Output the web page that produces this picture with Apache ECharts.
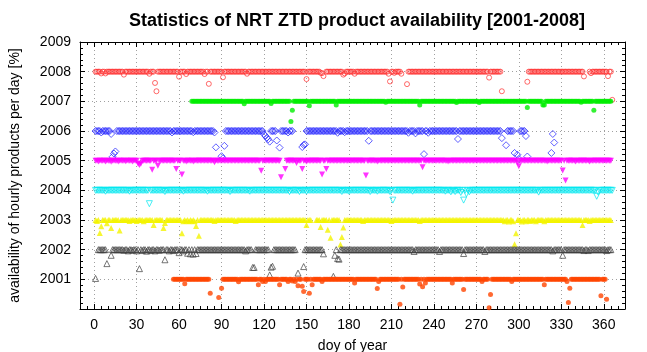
<!DOCTYPE html>
<html>
<head>
<meta charset="utf-8">
<script src="https://cdn.jsdelivr.net/npm/echarts@6/dist/echarts.min.js"></script>
<style>html,body{margin:0;padding:0;background:#fff}#c{width:647px;height:352px}</style>
</head>
<body>
<div id="c"></div>
<script>
const _ = null;
// availability [%] per day of year (index 0 = day 1), null = no data
const a2008 = [
100,100,100,100,94,100,100,94,100,100, 100,100,100,100,100,100,100,100,100,100, 90,100,100,100,100,100,100,100,100,100,
100,100,100,100,100,100,100,100,93,100, 100,100,62,34,100,100,100,100,100,100, 100,100,100,100,100,100,100,100,100,83,
100,100,100,100,92,100,100,100,100,100, 100,100,100,100,100,100,100,92,100,100, 59,100,100,100,100,100,100,100,100,100,
81,100,100,100,100,100,100,100,100,100, 100,100,100,100,100,100,100,93,100,100, 100,100,100,100,100,100,100,100,100,100,
100,100,100,100,100,100,100,100,100,100, 100,100,100,100,100,100,100,100,100,100, 100,100,100,100,100,100,100,100,100,75,
100,100,100,100,100,100,100,100,100,96, 95,85,_,100,100,100,100,100,100,100, 100,100,100,100,100,90,94,100,100,100,
100,100,100,93,100,100,100,100,100,100, 100,100,100,100,100,100,100,100,100,100, 100,100,100,100,100,100,100,93,67,100,
100,96,100,100,100,100,93,_,_,_, 58,100,100,100,100,100,100,100,100,100, 100,100,100,100,100,100,100,100,100,100,
100,100,100,100,100,100,100,100,100,100, 100,100,100,100,100,100,100,100,100,100, 100,100,100,100,100,100,100,100,100,100,
100,100,100,100,100,100,100,100,80,100, 100,100,100,100,100,100,100,34,_,_, _,_,_,_,_,_,_,_,_,_,
_,_,_,_,_,66,100,100,100,100, 100,100,100,100,100,100,100,100,100,100, 100,100,100,100,100,100,100,100,100,100,
100,100,100,100,100,100,100,100,100,100, 100,100,100,100,100,84,_,_,_,100, 95,100,100,100,100,100,100,100,100,100,
100,100,85,100,100,5
];
const a2007 = [
_,_,_,_,_,_,_,_,_,_, _,_,_,_,_,_,_,_,_,_, _,_,_,_,_,_,_,_,_,_,
_,_,_,_,_,_,_,_,_,_, _,_,_,_,_,_,_,_,_,_, _,_,_,_,_,_,_,_,_,_,
_,_,_,_,_,_,_,_,100,100, 100,100,100,100,100,100,100,100,100,100, 100,100,100,100,100,100,100,100,100,100,
100,100,100,100,100,100,100,100,100,100, 100,100,100,100,100,92,100,100,100,100, 100,100,100,100,100,100,100,100,100,100,
100,100,100,100,93,100,100,100,100,100, 100,100,100,100,100,100,100,100,32,70, 100,100,100,100,100,100,100,100,100,100,
100,85,100,100,100,100,100,100,100,100, 100,100,100,100,100,100,100,100,100,100, 88,100,100,100,100,100,100,100,100,100,
100,100,100,100,100,100,100,100,100,100, 100,100,100,100,100,100,100,100,100,100, 100,100,100,100,100,97,100,100,100,100,
100,100,100,100,100,100,100,100,100,100, 100,100,100,100,100,100,100,100,100,88, 100,100,100,100,100,100,100,100,100,100,
100,100,100,100,100,100,100,100,100,100, 100,100,100,100,100,96,100,100,100,100, 100,100,100,100,100,100,100,100,100,100,
100,96,100,100,100,100,100,100,100,100, 100,100,100,100,100,100,100,100,100,100, 100,100,100,100,100,100,100,100,100,100,
100,100,100,100,100,79,100,100,100,100, 100,100,100,100,100,100,88,88,100,100, 100,100,100,100,100,100,100,100,100,100,
100,100,100,100,100,100,100,100,100,100, 100,100,100,97,100,100,100,100,100,100, 100,100,70,100,100,100,100,100,100,100,
100,100,100,100,100
];
const a2006 = [
100,100,100,100,95,100,100,100,100,100, 100,90,13,24,31,100,100,100,100,100, 100,100,100,100,100,100,100,100,100,100,
100,100,100,100,100,100,100,100,100,100, 100,100,100,100,100,100,100,100,100,100, 100,100,100,100,95,100,100,100,100,100,
100,100,100,100,100,100,100,100,100,96, 100,100,100,100,100,100,100,100,100,100, 100,100,100,100,95,45,_,_,_,15,
8,50,100,100,100,100,100,100,100,100, 100,100,100,100,100,100,100,100,100,100, 100,100,100,100,100,100,100,100,100,89,
83,77,72,64,100,100,100,100,68,_, 44,100,100,100,100,100,95,100,100,100, _,_,_,_,_,_,46,53,55,100,
100,100,100,100,100,100,100,100,100,100, 100,100,100,100,100,100,100,100,100,100, 100,94,100,100,100,100,96,100,100,100,
100,100,100,100,100,100,100,100,100,100, 100,100,100,67,100,100,100,100,100,100, 100,100,100,100,100,100,100,100,100,100,
100,100,100,100,100,100,100,100,100,100, 100,94,100,100,100,100,92,100,100,100, 100,100,22,100,100,94,100,100,100,100,
100,100,100,100,100,100,100,100,100,100, 100,100,100,100,100,100,73,100,100,100, 100,100,100,100,100,100,100,100,100,100,
100,100,100,100,100,100,100,100,100,100, 100,100,100,100,100,100,100,76,_,_, 52,100,100,100,100,100,26,_,20,6,
100,100,100,100,83,14,_,_,_,_, _,_,_,_,_,_,_,_,_,_, _,_,26,90,61,_,_,_,_,_,
_,_,_,_,_,_,_,_,_,_, _,_,_,_,_,_,_,_,_,_, _,_,_,_,_,_,_,_,_,_,
_,_,_,_,_
];
const a2005 = [
100,100,97,100,100,100,100,97,100,100, 100,96,100,100,100,100,97,100,100,100, 100,98,100,100,100,100,97,100,100,100,
90,85,90,100,100,100,100,100,100,100, 69,100,100,100,83,100,100,100,100,100, 100,100,100,100,100,100,100,72,100,100,
100,53,100,100,97,100,100,100,100,97, 100,100,100,100,100,100,100,100,100,100, 100,100,100,100,95,100,100,100,100,100,
100,100,100,100,100,100,100,100,100,100, 100,100,100,100,100,100,100,100,100,100, 100,100,100,100,100,100,100,66,100,100,
100,100,100,100,100,100,100,100,100,100, 100,44,_,_,72,100,100,100,100,100, 100,100,92,100,100,100,72,100,100,97,
100,100,100,100,100,100,100,100,100,100, 53,100,100,72,100,100,100,100,100,100, 100,100,100,100,100,100,100,100,100,100,
100,100,100,100,100,100,100,100,100,100, 100,50,100,100,100,100,100,100,100,97, 100,100,100,100,100,100,100,100,100,100,
100,100,100,100,100,100,100,100,100,100, 100,100,100,100,100,100,100,100,100,100, 100,78,100,100,100,100,100,100,100,100,
100,100,100,100,100,100,100,100,100,97, 100,100,100,100,100,100,100,100,100,100, 100,100,100,100,100,100,100,100,100,100,
100,100,100,100,100,100,100,100,100,100, 100,100,100,100,100,100,100,100,100,100, 100,100,100,100,100,100,100,100,94,81,
100,100,100,100,100,100,100,100,100,100, 100,100,100,100,100,100,100,100,100,97, 100,100,100,100,100,100,100,100,100,100,
67,100,33,100,100,100,100,100,100,97, 100,100,100,100,100,100,100,100,100,97, 100,100,100,100,100,100,100,100,100,100,
100,100,100,100,100
];
const a2004 = [
100,100,100,100,100,100,100,97,100,100, 100,100,100,100,100,100,100,100,100,100, 100,100,100,100,97,100,100,100,100,100,
100,100,100,100,100,100,100,100,55,100, 100,100,100,100,100,100,100,100,100,96, 100,100,100,100,100,100,100,100,100,100,
100,100,97,100,100,100,100,100,100,100, 100,100,100,100,100,100,100,100,100,97, 100,100,100,100,100,100,100,100,100,100,
100,100,100,100,100,96,100,100,100,100, 100,100,100,100,100,100,100,100,100,97, 100,100,100,100,100,100,100,100,100,100,
100,100,100,100,100,100,100,100,100,100, 100,100,100,100,100,100,100,96,100,100, 100,100,100,100,96,100,100,100,100,97,
100,100,100,100,100,100,100,100,100,100, 100,100,100,100,100,100,100,100,100,100, 100,100,100,100,96,100,100,100,100,97,
100,100,100,100,100,100,100,100,100,100, 100,100,100,100,96,100,100,100,100,97, 100,100,100,100,100,100,100,100,96,100,
67,100,100,100,100,100,100,100,100,100, 100,100,100,100,97,100,100,100,100,100, 100,100,100,100,100,100,100,100,100,100,
100,100,100,100,100,100,100,97,100,100, 100,95,100,100,96,100,100,100,93,100, 67,100,88,100,95,100,100,100,100,100,
100,100,100,100,100,100,100,100,100,100, 100,100,100,100,100,100,100,100,100,100, 100,100,100,100,100,100,100,100,100,100,
100,100,100,100,100,100,100,100,100,100, 100,100,100,94,100,100,100,100,100,100, 100,100,100,100,100,100,100,100,100,100,
100,100,100,100,100,100,100,100,100,100, 100,100,100,100,100,100,100,100,100,100, 100,100,100,100,80,94,100,100,100,100,
100,100,100,100,100,100
];
const a2003 = [
100,97,100,56,79,100,100,100,89,100, 100,73,100,100,100,100,100,65,100,100, 100,100,100,100,97,100,100,100,100,97,
100,100,100,100,96,100,100,100,100,100, 100,83,100,100,100,100,100,100,73,90, 100,100,100,100,100,100,100,100,100,100,
100,55,96,100,97,100,96,100,97,100, 96,80,100,47,100,100,100,100,100,100, 100,100,100,100,97,100,100,100,100,100,
100,100,100,100,100,100,100,100,100,97, 100,100,100,100,100,100,100,100,100,100, 100,100,100,100,100,100,100,100,100,100,
100,100,100,100,100,100,100,100,100,100, 100,100,100,100,100,100,100,100,100,100, 100,100,100,100,100,100,100,100,100,83,
100,100,100,_,_,_,100,100,100,76, 100,100,100,100,67,100,40,100,100,100, 100,100,100,17,43,75,100,100,100,100,
100,100,100,100,100,100,100,100,100,97, 100,100,100,100,100,100,100,100,100,100, 100,100,100,100,100,100,100,100,100,97,
100,100,100,100,100,100,100,100,100,100, 100,100,100,100,100,100,100,100,100,97, 100,100,100,100,100,100,100,100,100,100,
100,100,100,100,100,100,100,100,100,100, 100,100,100,100,100,100,100,100,100,100, 100,100,100,100,100,100,100,100,100,100,
100,100,100,100,100,100,100,100,100,100, 100,100,100,100,100,100,100,100,100,96, 100,100,95,100,100,96,18,55,100,100,
100,95,100,100,96,100,100,97,100,100, 100,96,100,100,100,100,100,96,100,100, 100,100,100,100,100,100,100,100,100,100,
100,100,100,100,100,100,100,100,100,100, 100,100,100,100,83,100,100,100,100,97, 100,100,100,100,100,100,100,100,100,100,
100,100,100,100,100
];
const a2002 = [
3,_,100,100,100,100,100,100,53,_, _,81,100,100,100,100,100,100,100,100, 98,100,100,96,100,100,98,100,100,96,
100,36,100,97,100,100,95,100,100,97, 100,100,96,100,100,98,100,100,100,66, 100,100,96,100,100,97,100,100,100,90,
100,100,96,100,100,88,100,86,100,85, 100,87,100,100,100,100,100,100,100,100, 100,100,100,100,100,100,100,100,100,100,
100,100,100,100,100,100,100,100,100,100, 100,100,100,100,100,100,96,100,100,100, 100,40,40,100,100,100,100,100,100,100,
100,100,100,15,41,44,100,100,100,100, 100,100,100,100,100,100,100,100,100,100, 100,100,_,21,_,_,_,43,100,100,
100,100,100,100,100,100,100,100,100,100, 100,86,_,_,_,_,_,_,10,81, 100,70,68,100,100,100,100,100,100,100,
100,100,100,100,100,100,100,100,100,100, 100,100,100,100,100,100,100,100,100,100, 100,100,100,100,100,100,100,100,100,100,
100,100,100,100,100,100,100,100,100,100, 100,100,100,100,100,94,100,100,100,100, 100,100,100,100,100,100,100,100,100,100,
100,100,100,94,100,100,100,100,100,100, 100,100,100,100,100,100,100,100,100,100, 87,100,100,100,100,100,100,100,100,100,
100,100,100,100,100,94,100,100,100,100, 100,100,100,100,100,100,100,100,100,100, 100,100,100,100,100,100,100,100,100,100,
100,100,100,100,100,100,100,100,100,100, 100,100,100,100,100,100,100,100,100,100, 100,100,100,96,100,100,100,100,100,100,
81,100,100,100,100,100,100,100,100,100, 100,100,100,100,100,97,100,100,97,100, 100,100,100,100,100,100,100,100,100,100,
100,97,100,100,100
];
const a2001 = [
_,_,_,_,_,_,_,_,_,_, _,_,_,_,_,_,_,_,_,_, _,_,_,_,_,_,_,_,_,_,
_,_,_,_,_,_,_,_,_,_, _,_,_,_,_,_,_,_,_,_, _,_,_,_,_,100,100,100,100,100,
100,100,100,85,100,100,100,100,100,100, 100,100,100,100,100,100,100,100,100,100, 100,53,_,_,_,_,_,39,_,70,
100,100,100,100,100,100,100,100,100,100, 100,92,100,100,100,100,100,100,100,100, 100,100,100,100,100,82,100,100,93,100,
93,100,100,100,100,100,100,100,100,100, 82,100,100,100,100,100,93,100,100,94, 100,93,100,78,100,100,77,59,100,100,
100,53,100,82,100,100,100,100,100,100, 93,100,100,100,100,100,100,100,100,100, 100,100,100,100,100,100,100,100,100,100,
100,100,100,88,100,100,100,100,100,100, 100,100,100,100,100,100,100,100,100,69, 93,100,100,100,100,100,100,100,100,100,
100,100,100,100,100,16,100,74,100,100, 100,100,100,100,100,100,100,100,100,84, 100,75,100,88,100,100,100,100,100,100,
100,100,100,100,100,100,100,100,100,100, 100,100,88,100,100,100,100,100,100,100, 66,100,100,100,100,100,100,100,100,100,
100,100,100,93,100,100,100,100,4,49, 100,100,100,100,100,100,100,100,100,100, 100,100,100,100,93,100,100,100,100,100,
100,100,100,100,100,100,100,100,100,100, 100,100,100,100,100,100,100,82,100,100, 100,100,100,100,100,100,100,100,100,100,
100,100,100,93,22,70,100,100,100,100, 100,100,100,100,100,100,100,100,100,100, 100,100,100,100,100,100,100,45,100,100,
100,33,_,_,_
];

const years = [2008, 2007, 2006, 2005, 2004, 2003, 2002, 2001];
const availability = [a2008, a2007, a2006, a2005, a2004, a2003, a2002, a2001];
const xTickValues = [0, 30, 60, 90, 120, 150, 180, 210, 240, 270, 300, 330, 360];
const yTickLabels = ['2001', '2002', '2003', '2004', '2005', '2006', '2007', '2008', '2009'];

const styles = [
  {symbol: 'circle', rotate: 0, size: 5, color: '#ff3030', empty: true},
  {symbol: 'circle', rotate: 0, size: 5, color: '#00ee00', empty: false},
  {symbol: 'diamond', rotate: 0, size: 7, color: '#2020ff', empty: true},
  {symbol: 'triangle', rotate: 180, size: 6, color: '#ff00ff', empty: false},
  {symbol: 'triangle', rotate: 180, size: 6, color: '#00e8f0', empty: true},
  {symbol: 'triangle', rotate: 0, size: 6, color: '#f4f400', empty: false},
  {symbol: 'triangle', rotate: 0, size: 6, color: '#404040', empty: true},
  {symbol: 'circle', rotate: 0, size: 5, color: '#ff4500', empty: false}
];

const FONT = "'Liberation Sans', Arial, Helvetica, sans-serif";

const series = years.map((yr, k) => {
  const pts = [];
  availability[k].forEach((a, i) => { if (a !== null) pts.push([i + 1, yr - 1 + a / 100]); });
  const s = styles[k];
  return {
    type: 'scatter', name: String(yr), data: pts, xAxisIndex: 0, yAxisIndex: 0,
    symbol: s.symbol, symbolSize: s.size, symbolRotate: s.rotate,
    itemStyle: s.empty ? {color: 'rgba(0,0,0,0)', borderColor: s.color, borderWidth: 0.9}
                       : {color: s.color, borderWidth: 0},
    emphasis: {disabled: true}, silent: true, z: 3 + k
  };
});

const black = {color: '#000', width: 1};
const grid = {left: 80, right: 22, top: 42, bottom: 43, containLabel: false, outerBoundsMode: 'none'};

const option = {
  animation: false,
  backgroundColor: '#fff',
  title: {
    text: 'Statistics of NRT ZTD product availability [2001-2008]',
    left: 352, top: 7, textAlign: 'center',
    textStyle: {fontFamily: FONT, fontSize: 18, fontWeight: 'bold', color: '#000'}
  },
  grid: grid,
  xAxis: [
    {type: 'value', min: -10, max: 375, position: 'bottom',
     name: 'doy of year', nameLocation: 'middle', nameGap: 30,
     nameTextStyle: {fontFamily: FONT, fontSize: 14, color: '#000'},
     axisLine: {show: true, onZero: false, lineStyle: black},
     axisTick: {show: true, inside: true, length: 5, customValues: xTickValues, lineStyle: black},
     axisLabel: {customValues: xTickValues, fontFamily: FONT, fontSize: 14, color: '#000', margin: 9},
     splitLine: {show: true, lineStyle: {color: '#a0a0a0', width: 1, type: [1, 3]}}},
    {type: 'value', min: -10, max: 375, interval: 5, position: 'bottom',
     axisLine: {show: false}, axisTick: {show: true, inside: true, length: 3, lineStyle: black},
     axisLabel: {show: false}, splitLine: {show: false}},
    {type: 'value', min: -10, max: 375, position: 'top',
     axisLine: {show: true, onZero: false, lineStyle: black},
     axisTick: {show: true, inside: true, length: 5, customValues: xTickValues, lineStyle: black},
     axisLabel: {show: false}, splitLine: {show: false}},
    {type: 'value', min: -10, max: 375, interval: 5, position: 'top',
     axisLine: {show: false}, axisTick: {show: true, inside: true, length: 3, lineStyle: black},
     axisLabel: {show: false}, splitLine: {show: false}}
  ],
  yAxis: [
    {type: 'value', min: 2000, max: 2009, interval: 1, position: 'left',
     name: 'availability of hourly products per day [%]', nameLocation: 'middle', nameGap: 58,
     nameTextStyle: {fontFamily: FONT, fontSize: 14, color: '#000'},
     axisLine: {show: true, onZero: false, lineStyle: black},
     axisTick: {show: true, inside: true, length: 5, lineStyle: black},
     minorTick: {show: true, splitNumber: 5, length: 3, lineStyle: black},
     axisLabel: {fontFamily: FONT, fontSize: 14, color: '#000', margin: 9,
       formatter: v => yTickLabels.indexOf(String(Math.round(v))) >= 0 ? String(Math.round(v)) : ''},
     splitLine: {show: true, lineStyle: {color: '#a0a0a0', width: 1, type: [1, 3]}}},
    {type: 'value', min: 2000, max: 2009, interval: 1, position: 'right',
     axisLine: {show: true, onZero: false, lineStyle: black},
     axisTick: {show: true, inside: true, length: 5, lineStyle: black},
     minorTick: {show: true, splitNumber: 5, length: 3, lineStyle: black},
     axisLabel: {show: false}, splitLine: {show: false}}
  ],
  series: series
};

const chart = echarts.init(document.getElementById('c'), null, {renderer: 'canvas'});
chart.setOption(option);
</script>
</body>
</html>
